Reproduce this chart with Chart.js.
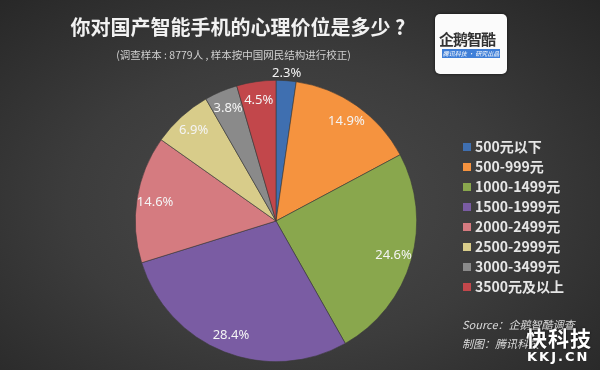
<!DOCTYPE html>
<html>
<head>
<meta charset="utf-8">
<script src="https://cdn.jsdelivr.net/npm/chart.js@4.4.0/dist/chart.umd.min.js"></script>
<style>
  html, body { margin: 0; padding: 0; }
  body {
    width: 600px; height: 370px; overflow: hidden; position: relative;
    background: radial-gradient(ellipse at 48% 55%, #4b4b4b 0%, #3c3c3c 50%, #262626 100%);
    font-family: "Noto Sans CJK SC", "Noto Sans", sans-serif;
  }
  #wrap { position: absolute; left: 0; top: 0; width: 600px; height: 370px; }
  .title {
    position: absolute; left: 0; width: 476px; top: 12px; text-align: center;
    color: #f2f2f2; font-size: 20px; font-weight: bold;
  }
  .subtitle {
    position: absolute; left: 0; width: 467px; top: 47px; text-align: center;
    color: #d0d0d0; font-size: 10.5px;
  }
  .logo {
    position: absolute; left: 435px; top: 14px; width: 72px; height: 60px;
    background: #fbfbfb; border-radius: 5px; box-shadow: 0 0 3px #111;
  }
  .logo .name { position: absolute; left: 4px; top: 14px; font-size: 15px; font-weight: bold; color: #333; letter-spacing: -1px; }
  .logo .bar {
    position: absolute; left: 7px; top: 35px; width: 58px; height: 9px; background: #3f7fd8;
    color: #fff; font-size: 6px; line-height: 9px; text-align: center; font-style: italic;
  }
  .source { position: absolute; left: 462px; top: 315px; color: #dcdcdc; font-size: 11px; font-style: italic; line-height: 19px; }
  .mark { position: absolute; left: 526px; top: 322px; color: #ffffff; font-size: 21px; font-weight: bold; letter-spacing: 1px; text-shadow: 0 0 2px #000; }
  .mark2 { position: absolute; left: 527px; top: 349px; color: #ffffff; font-size: 13px; font-weight: bold; letter-spacing: 2px; font-family: "DejaVu Sans", sans-serif; }
</style>
</head>
<body>
<div id="wrap"><canvas id="pieChart" width="600" height="370"></canvas></div>
<div class="title">你对国产智能手机的心理价位是多少 ?</div>
<div class="subtitle">(调查样本 : 8779人 , 样本按中国网民结构进行校正)</div>
<div class="logo"><div class="name">企鹅智酷</div><div class="bar">腾讯科技 · 研究出品</div></div>
<div class="source">Source：企鹅智酷调查<br>制图：腾讯科技</div>
<div class="mark">快科技</div>
<div class="mark2">KKJ.CN</div>
<script>
// price ranges and share of respondents (%)
const categories = ["500元以下", "500-999元", "1000-1499元", "1500-1999元", "2000-2499元", "2500-2999元", "3000-3499元", "3500元及以上"];
const shares = [2.3, 14.9, 24.6, 28.4, 14.6, 6.9, 3.8, 4.5];
const sliceColors = ["#3f6fb0", "#f5933f", "#89a74d", "#7a5ca3", "#d57b80", "#d8cc8a", "#8a8a8a", "#c2474b"];

// draws the percentage labels on the slices
const sliceLabels = {
    id: "sliceLabels",
    afterDatasetsDraw(chart) {
        const ctx = chart.ctx;
        const meta = chart.getDatasetMeta(0);
        ctx.save();
        ctx.font = "13px 'Noto Sans', sans-serif";
        ctx.fillStyle = "#f4f4f4";
        ctx.textAlign = "center";
        ctx.textBaseline = "middle";
        meta.data.forEach((arc, i) => {
            const mid = (arc.startAngle + arc.endAngle) / 2;
            // the smallest slice gets its label outside the pie
            const r = shares[i] < 3 ? arc.outerRadius * 1.05 : arc.outerRadius * 0.87;
            const x = arc.x + Math.cos(mid) * r;
            const y = arc.y + Math.sin(mid) * r;
            ctx.fillText(shares[i].toFixed(1) + "%", x, y);
        });
        ctx.restore();
    }
};

// legend on the right, built from the same arrays
const sideLegend = {
    id: "sideLegend",
    afterDraw(chart) {
        const ctx = chart.ctx;
        ctx.save();
        ctx.font = "bold 14px 'Noto Sans CJK SC', sans-serif";
        ctx.textBaseline = "middle";
        categories.forEach((name, i) => {
            const y = 147 + i * 20;
            ctx.fillStyle = sliceColors[i];
            ctx.fillRect(463, y - 4, 8, 8);
            ctx.fillStyle = "#e6e6e6";
            ctx.fillText(name, 475, y);
        });
        ctx.restore();
    }
};

new Chart(document.getElementById("pieChart"), {
    type: "pie",
    data: {
        labels: categories,
        datasets: [{
            data: shares,
            backgroundColor: sliceColors,
            borderColor: "#3a3a3a",
            borderWidth: 0.6
        }]
    },
    options: {
        responsive: false,
        animation: false,
        layout: { padding: { left: 135, right: 183, top: 80, bottom: 8 } },
        plugins: {
            legend: { display: false },
            tooltip: { enabled: false }
        }
    },
    plugins: [sliceLabels, sideLegend]
});
</script>
</body>
</html>
